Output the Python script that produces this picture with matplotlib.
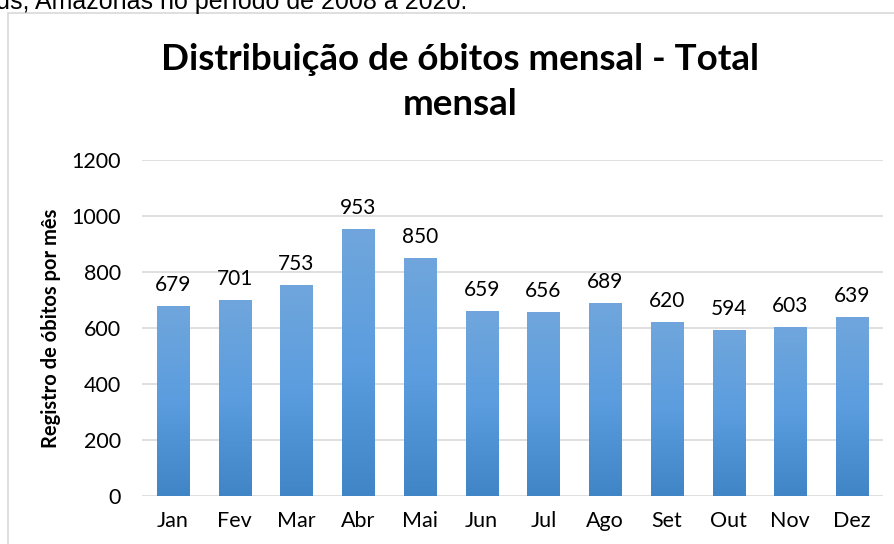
import numpy as np
import matplotlib
matplotlib.use('Agg')
import matplotlib.pyplot as plt
from matplotlib.patches import Rectangle
from matplotlib.colors import LinearSegmentedColormap

meses = ['Jan', 'Fev', 'Mar', 'Abr', 'Mai', 'Jun', 'Jul', 'Ago', 'Set', 'Out', 'Nov', 'Dez']
obitos = [679, 701, 753, 953, 850, 659, 656, 689, 620, 594, 603, 639]
yticks = [0, 200, 400, 600, 800, 1000, 1200]

plt.rcParams['font.family'] = ['Lato', 'DejaVu Sans']

fig = plt.figure(figsize=(8.94, 5.44), dpi=100)

# caption text cut off at the top of the screenshot
fig.text(-0.004, 1.0 - 9 / 544, 'us, Amazonas no período de 2008 a 2020.',
         fontsize=18, family='Liberation Sans', va='baseline', ha='left')

# chart frame
frame = Rectangle((8 / 894, -0.01), 1.0, 1 - 13 / 544 + 0.01, transform=fig.transFigure,
                  fill=False, edgecolor='#d9d9d9', linewidth=1.2)
fig.patches.append(frame)

ax = fig.add_axes([142 / 894, 1 - 496 / 544, (883 - 142) / 894, (496 - 160) / 544])

x = np.arange(len(meses))
bars = ax.bar(x, obitos, width=0.52, color='none', zorder=3)

cmap = LinearSegmentedColormap.from_list('grad', ['#4085c6', '#5b9ddf', '#70a6dc'])
grad = np.linspace(0, 1, 256).reshape(-1, 1)
for b in bars:
    x0, w, h = b.get_x(), b.get_width(), b.get_height()
    im = ax.imshow(grad, cmap=cmap, aspect='auto', origin='lower',
                   extent=[x0, x0 + w, 0, h], zorder=3)
    im.set_clip_path(b)

for xi, v in zip(x, obitos):
    ax.annotate(str(v), (xi, v), xytext=(0, 8), textcoords='offset points',
                ha='center', va='bottom', fontsize=15)

ax.set_xlim(-0.5, len(meses) - 0.5)
ax.set_ylim(0, 1200)
ax.set_yticks(yticks)
ax.set_xticks(x)
ax.set_xticklabels(meses)
ax.tick_params(axis='both', length=0, labelsize=15.5)
ax.tick_params(axis='y', pad=15)
ax.tick_params(axis='x', pad=11)
ax.grid(axis='y', color='#d9d9d9', linewidth=1.2, zorder=0)
for s in ax.spines.values():
    s.set_visible(False)

ax.set_ylabel('Registro de óbitos por mês', fontsize=14.5, fontweight='bold', labelpad=8)

fig.text(460 / 894, 1 - 82 / 544, 'Distribuição de óbitos mensal - Total\nmensal',
         ha='center', va='center', fontsize=26.5, fontweight='bold', linespacing=1.45)

fig.savefig('out.png', dpi=100)
